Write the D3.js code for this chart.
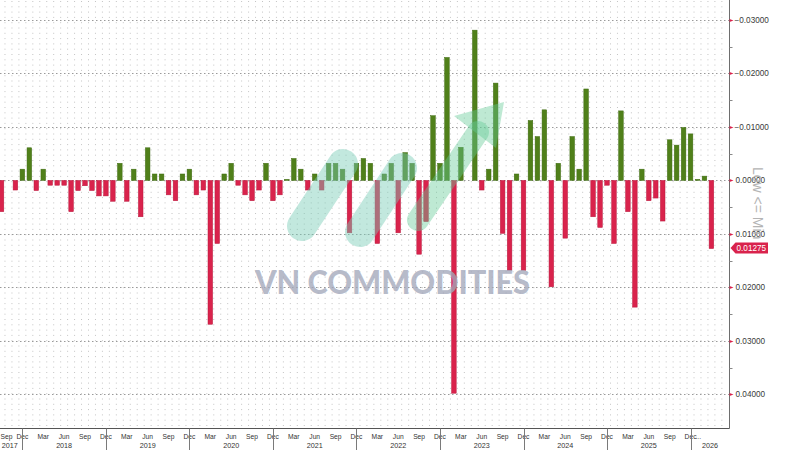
<!DOCTYPE html>
<html>
<head>
<meta charset="utf-8">
<script src="https://cdn.jsdelivr.net/npm/d3@7"></script>
<style>
  html, body { margin: 0; padding: 0; background: #ffffff; }
  svg { display: block; }
</style>
</head>
<body>
<svg id="chart" width="800" height="450"></svg>
<script>
// ---------------- DATA ----------------
const months = [
  "2017-09","2017-10","2017-11","2017-12",
  "2018-01","2018-02","2018-03","2018-04","2018-05","2018-06","2018-07","2018-08","2018-09","2018-10","2018-11","2018-12",
  "2019-01","2019-02","2019-03","2019-04","2019-05","2019-06","2019-07","2019-08","2019-09","2019-10","2019-11","2019-12",
  "2020-01","2020-02","2020-03","2020-04","2020-05","2020-06","2020-07","2020-08","2020-09","2020-10","2020-11","2020-12",
  "2021-01","2021-02","2021-03","2021-04","2021-05","2021-06","2021-07","2021-08","2021-09","2021-10","2021-11","2021-12",
  "2022-01","2022-02","2022-03","2022-04","2022-05","2022-06","2022-07","2022-08","2022-09","2022-10","2022-11","2022-12",
  "2023-01","2023-02","2023-03","2023-04","2023-05","2023-06","2023-07","2023-08","2023-09","2023-10","2023-11","2023-12",
  "2024-01","2024-02","2024-03","2024-04","2024-05","2024-06","2024-07","2024-08","2024-09","2024-10","2024-11","2024-12",
  "2025-01","2025-02","2025-03","2025-04","2025-05","2025-06","2025-07","2025-08","2025-09","2025-10","2025-11","2025-12",
  "2026-01","2026-02","2026-03"
];

const values = [
  0.00585, 0.00000, 0.00180, -0.00210,
  -0.00610, 0.00190, -0.00210, 0.00090, 0.00090, 0.00090, 0.00585, 0.00190, 0.00100, 0.00190, 0.00290, 0.00290,
  0.00390, -0.00320, 0.00390, -0.00210, 0.00680, -0.00610, -0.00120, -0.00120, 0.00270, 0.00380, -0.00120, -0.00210,
  0.00270, 0.00180, 0.02690, 0.01180, -0.00120, -0.00320, 0.00090, 0.00270, 0.00380, 0.00180, -0.00320, 0.00380,
  0.00270, -0.00020, -0.00410, -0.00210, 0.00180, -0.00120, 0.00180, -0.00320, -0.00320, -0.00210, 0.00980, -0.00320,
  -0.00410, -0.00320, 0.01180, -0.00120, -0.00320, 0.00980, -0.00520, -0.00320, 0.01380, 0.00770, -0.01210, -0.00320,
  -0.02300, 0.03980, -0.00620, 0.00000, -0.02810, 0.00180, -0.00210, -0.01820, 0.00990, 0.01680, -0.00120, 0.01680,
  -0.01120, -0.00820, -0.01320, 0.01990, -0.00320, 0.01080, -0.00820, -0.00210, -0.01710, 0.00680, 0.00880, 0.00090,
  0.01180, -0.01300, 0.00585, 0.02370, -0.00210, 0.00380, 0.00330, 0.00760, -0.00760, -0.00660, -0.00990, -0.00870,
  -0.00020, -0.00080, 0.01275
];

const yTicks = [-0.03, -0.02, -0.01, 0, 0.01, 0.02, 0.03, 0.04];
const yMinorTicks = [-0.025, -0.015, -0.005, 0.005, 0.015, 0.025, 0.035];

const tickMonths = [
  "2017-09","2017-12","2018-03","2018-06","2018-09","2018-12","2019-03","2019-06","2019-09","2019-12",
  "2020-03","2020-06","2020-09","2020-12","2021-03","2021-06","2021-09","2021-12","2022-03","2022-06",
  "2022-09","2022-12","2023-03","2023-06","2023-09","2023-12","2024-03","2024-06","2024-09","2024-12",
  "2025-03","2025-06","2025-09","2025-12"
];
const ellipsisMonth = "2026-01";
const yearSeparators = ["2017-12","2018-12","2019-12","2020-12","2021-12","2022-12","2023-12","2024-12","2025-12"];
const yearLabels = ["2017","2018","2019","2020","2021","2022","2023","2024","2025","2026"];
const lastLabel = "0.01275";
const sideLabel = "Low <= Min";
const watermark = "VN COMMODITIES";

// ---------------- LAYOUT ----------------
const svg = d3.select("#chart");
const plotRight = 729.5, plotBottom = 428.5;

const x = d3.scaleBand()
  .domain(months)
  .range([-1.98, 714.9])
  .paddingInner(0.34)
  .paddingOuter(0.17);

const y = d3.scaleLinear()
  .domain([-0.03374, 0.04638])
  .range([0, 428.4]);

const xc = m => x(m) + x.bandwidth() / 2;
const step = x.step();

svg.append("defs").append("clipPath").attr("id", "plotClip")
  .append("rect").attr("x", 0).attr("y", 0).attr("width", plotRight).attr("height", plotBottom);

const plot = svg.append("g").attr("clip-path", "url(#plotClip)");

// vertical dotted columns
const colXs = d3.range(0, months.length + 2).map(k => x.range()[0] + k * step).filter(v => v <= 723);
plot.append("g").selectAll("line").data(colXs).join("line")
  .attr("x1", d => d).attr("x2", d => d)
  .attr("y1", 1).attr("y2", plotBottom - 2)
  .attr("stroke", "#c4c4c4").attr("stroke-width", 1)
  .attr("stroke-dasharray", "1,4.3");

// horizontal dotted major gridlines
plot.append("g").selectAll("line").data(yTicks).join("line")
  .attr("x1", 0).attr("x2", plotRight)
  .attr("y1", d => Math.round(y(d)) + 0.5).attr("y2", d => Math.round(y(d)) + 0.5)
  .attr("stroke", "#9a9a9a").attr("stroke-width", 1)
  .attr("stroke-dasharray", "1.5,2.5");

// bars
plot.append("g").selectAll("rect").data(months.map((m, i) => ({ m, v: values[i] }))).join("rect")
  .attr("x", d => x(d.m))
  .attr("width", x.bandwidth())
  .attr("y", d => Math.min(y(0), y(d.v)))
  .attr("height", d => Math.abs(y(d.v) - y(0)))
  .attr("fill", d => d.v < 0 ? "#50801a" : "#d9234c")
  .attr("stroke", d => d.v < 0 ? "#3e6a10" : "#b91a3e")
  .attr("stroke-width", 0.5);

// watermark logo (translucent)
const wm = svg.append("g").attr("pointer-events", "none");
const capsules = [
  { x1: 302, y1: 226, x2: 343, y2: 164 },
  { x1: 360, y1: 232, x2: 402, y2: 168 }
];
wm.selectAll("line.cap").data(capsules).join("line")
  .attr("class", "cap")
  .attr("x1", d => d.x1).attr("y1", d => d.y1).attr("x2", d => d.x2).attr("y2", d => d.y2)
  .attr("stroke", "rgb(120,204,182)").attr("stroke-opacity", 0.45)
  .attr("stroke-width", 30).attr("stroke-linecap", "round");
wm.append("line")
  .attr("x1", 418).attr("y1", 220).attr("x2", 478).attr("y2", 132)
  .attr("stroke", "rgb(100,202,150)").attr("stroke-opacity", 0.42)
  .attr("stroke-width", 22).attr("stroke-linecap", "round");
wm.append("path")
  .attr("d", "M504,102 L454,116 L496,148 Z")
  .attr("fill", "rgb(100,202,150)").attr("fill-opacity", 0.42);

wm.append("text")
  .attr("x", 255).attr("y", 294)
  .attr("textLength", 275).attr("lengthAdjust", "spacingAndGlyphs")
  .attr("font-family", "Lato, 'Open Sans', sans-serif")
  .attr("font-weight", 900).attr("font-size", 32)
  .attr("fill", "#a3a8bb").attr("fill-opacity", 0.78)
  .text(watermark);

// ---------------- AXES ----------------
const axisFont = "'Liberation Sans', Arial, sans-serif";

// right axis line
svg.append("line")
  .attr("x1", plotRight).attr("x2", plotRight).attr("y1", 0).attr("y2", plotBottom)
  .attr("stroke", "#6e6e6e").attr("stroke-width", 1);
// bottom axis line
svg.append("line")
  .attr("x1", 0).attr("x2", plotRight).attr("y1", plotBottom).attr("y2", plotBottom)
  .attr("stroke", "#555").attr("stroke-width", 1);

// right major ticks (red) and labels
const yAxisG = svg.append("g");
yAxisG.selectAll("path.maj").data(yTicks).join("path")
  .attr("class", "maj")
  .attr("d", d => { const yy = Math.round(y(d)) + 0.5; return `M${plotRight},${yy - 1.5}L${plotRight + 4},${yy}L${plotRight},${yy + 1.5}Z`; })
  .attr("fill", "#d9234c");
yAxisG.selectAll("line.min").data(yMinorTicks).join("line")
  .attr("class", "min")
  .attr("x1", plotRight).attr("x2", plotRight + 3)
  .attr("y1", d => Math.round(y(d)) + 0.5).attr("y2", d => Math.round(y(d)) + 0.5)
  .attr("stroke", "#888");
yAxisG.selectAll("text").data(yTicks).join("text")
  .attr("x", d => d < 0 ? 734.5 : 735.5)
  .attr("y", d => y(d) + 3)
  .attr("font-family", axisFont).attr("font-size", 8.2)
  .attr("fill", "#3a3a3a")
  .text(d => d3.format(".5f")(d));

// side legend text (rotated)
svg.append("text")
  .attr("transform", "translate(753,167) rotate(90)")
  .attr("font-family", axisFont).attr("font-size", 14)
  .attr("fill", "#b4b4b4")
  .text(sideLabel);

// last value tag
const ly = y(values[values.length - 1]) - 0.5;
svg.append("path")
  .attr("d", `M${plotRight + 1},${ly} L${plotRight + 6},${ly - 5.5} L768,${ly - 5.5} L768,${ly + 5.5} L${plotRight + 6},${ly + 5.5} Z`)
  .attr("fill", "#d9234c");
svg.append("text")
  .attr("x", 736.5).attr("y", ly + 3)
  .attr("font-family", axisFont).attr("font-size", 8.2)
  .attr("fill", "#ffffff")
  .text(lastLabel);

// bottom month labels
const fmtMonth = d3.timeFormat("%b");
const parseMonth = d3.timeParse("%Y-%m");
svg.append("g").selectAll("text").data(tickMonths).join("text")
  .attr("x", (d, i) => i === 0 ? 0.5 : xc(d))
  .attr("y", 438.5)
  .attr("text-anchor", (d, i) => i === 0 ? "start" : "middle")
  .attr("font-family", axisFont).attr("font-size", 6.7)
  .attr("fill", "#333")
  .text(d => fmtMonth(parseMonth(d)));
svg.append("text")
  .attr("x", xc(ellipsisMonth) - 2).attr("y", 438.5)
  .attr("text-anchor", "start")
  .attr("font-family", axisFont).attr("font-size", 6.7)
  .attr("fill", "#333")
  .text("...");

// year separators
svg.append("g").selectAll("line").data(yearSeparators).join("line")
  .attr("x1", d => Math.round(xc(d)) + 0.5).attr("x2", d => Math.round(xc(d)) + 0.5)
  .attr("y1", plotBottom).attr("y2", 450)
  .attr("stroke", "#7a7a7a").attr("stroke-width", 1);

// year labels centered between separators
const bounds = [-3].concat(yearSeparators.map(d => xc(d))).concat([plotRight]);
svg.append("g").selectAll("text").data(yearLabels).join("text")
  .attr("x", (d, i) => (bounds[i] + bounds[i + 1]) / 2)
  .attr("y", 447.5)
  .attr("text-anchor", "middle")
  .attr("font-family", axisFont).attr("font-size", 7.2)
  .attr("fill", "#333")
  .text(d => d);
</script>
</body>
</html>
